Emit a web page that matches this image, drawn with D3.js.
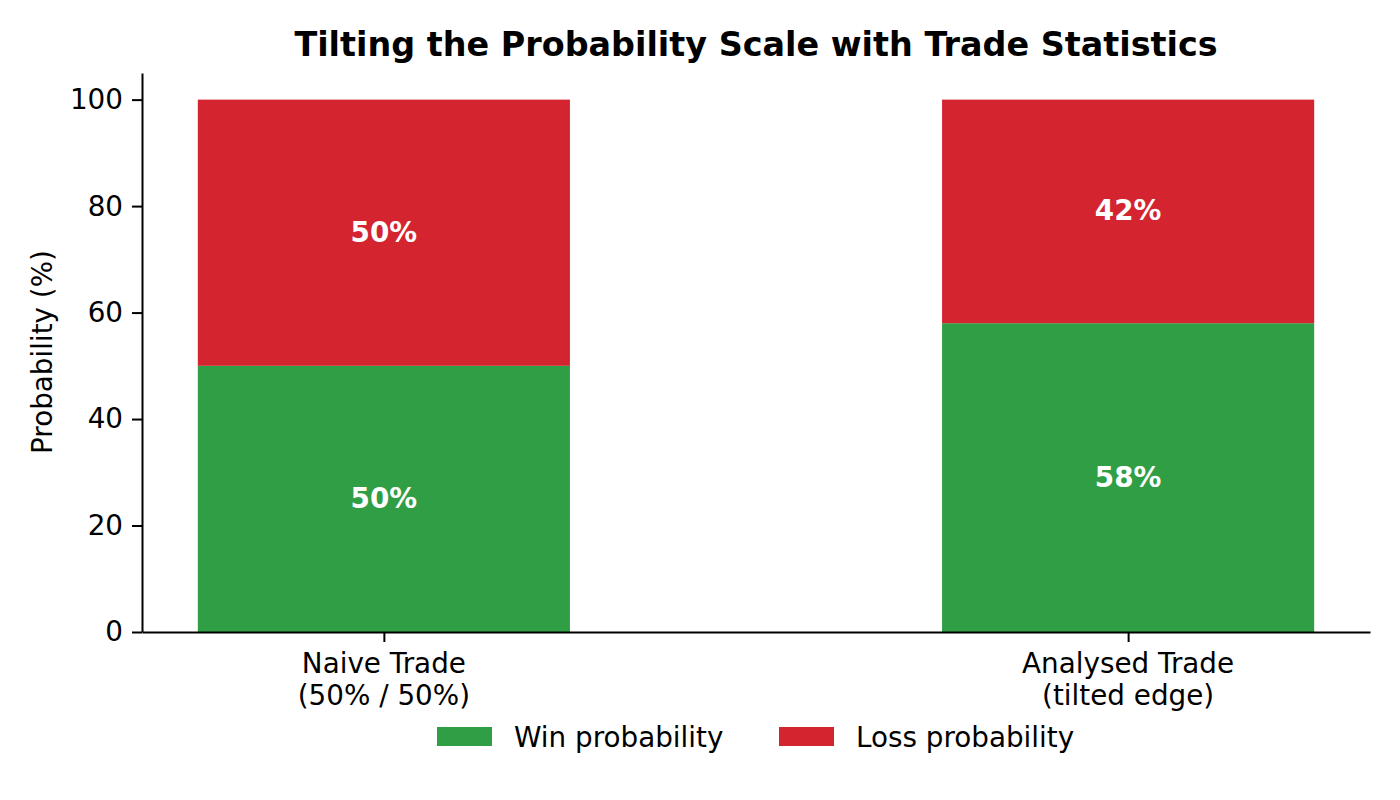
<!DOCTYPE html>
<html><head><meta charset="utf-8">
<script src="https://cdn.jsdelivr.net/npm/d3@7"></script>
<style>body{margin:0;background:#fff;font-family:"DejaVu Sans",sans-serif;}</style>
</head><body>
<svg id="chart" width="1400" height="800"></svg>
<script>
const categories = [["Naive Trade","(50% / 50%)"],["Analysed Trade","(tilted edge)"]];
const winValues = [50, 58];
const lossValues = [50, 42];
const seriesNames = ["Win probability","Loss probability"];
const seriesColors = ["#2f9e44","#d3242f"];
const yTicks = [0,20,40,60,80,100];

(function(){
const svg = d3.select("#chart");
const mLeft = 142, mRight = 1370, mTop = 73, mBottom = 632;
const fs = 27.8;
const x = d3.scaleLinear().domain([-0.325, 1.325]).range([mLeft, mRight]);
const y = d3.scaleLinear().domain([0, 105]).range([mBottom, mTop]);
const barW = 0.5;

const g = svg.append("g");
categories.forEach((c, i) => {
  const x0 = x(i - barW/2), x1 = x(i + barW/2);
  g.append("rect").attr("x", x0).attr("width", x1 - x0)
    .attr("y", y(winValues[i])).attr("height", y(0) - y(winValues[i]))
    .attr("fill", seriesColors[0]);
  g.append("rect").attr("x", x0).attr("width", x1 - x0)
    .attr("y", y(winValues[i] + lossValues[i])).attr("height", y(winValues[i]) - y(winValues[i] + lossValues[i]))
    .attr("fill", seriesColors[1]);
  g.append("text").attr("x", x(i)).attr("y", y(winValues[i]/2)).attr("dy", "0.32em")
    .attr("text-anchor", "middle").attr("fill", "#fff").attr("font-weight", "bold")
    .attr("font-size", fs).text(winValues[i] + "%");
  g.append("text").attr("x", x(i)).attr("y", y(winValues[i] + lossValues[i]/2)).attr("dy", "0.32em")
    .attr("text-anchor", "middle").attr("fill", "#fff").attr("font-weight", "bold")
    .attr("font-size", fs).text(lossValues[i] + "%");
});

const yAxis = svg.append("g").attr("transform", `translate(${mLeft},0)`)
  .call(d3.axisLeft(y).tickValues(yTicks).tickSize(10).tickPadding(9).tickSizeOuter(0));
yAxis.select(".domain").attr("stroke", "#000").attr("stroke-width", 2);
yAxis.selectAll(".tick line").attr("stroke-width", 2);
yAxis.selectAll("text").attr("font-size", fs).attr("font-family", "DejaVu Sans").attr("fill", "#000");

const xAxis = svg.append("g").attr("transform", `translate(0,${mBottom})`)
  .call(d3.axisBottom(x).tickValues([0,1]).tickFormat("").tickSize(10).tickSizeOuter(0));
xAxis.select(".domain").attr("stroke", "#000").attr("stroke-width", 2);
xAxis.selectAll(".tick line").attr("stroke-width", 2);
categories.forEach((c, i) => {
  const t = svg.append("text").attr("x", x(i)).attr("y", 673).attr("text-anchor", "middle")
    .attr("font-size", fs).attr("fill", "#000");
  c.forEach((line, j) => t.append("tspan").attr("x", x(i)).attr("dy", j === 0 ? 0 : 32).text(line));
});

svg.append("text").attr("transform", "translate(52,352) rotate(-90)").attr("text-anchor", "middle")
  .attr("font-size", fs).attr("fill", "#000").text("Probability (%)");

svg.append("text").attr("x", 756).attr("y", 56).attr("text-anchor", "middle")
  .attr("font-size", 33.4).attr("font-weight", "bold").attr("fill", "#000")
  .text("Tilting the Probability Scale with Trade Statistics");

const legX = [437, 779];
seriesNames.forEach((n, i) => {
  svg.append("rect").attr("x", legX[i]).attr("y", 727).attr("width", 55).attr("height", 19)
    .attr("fill", seriesColors[i]);
  svg.append("text").attr("x", legX[i] + 77).attr("y", 737).attr("dy", "0.36em")
    .attr("font-size", fs).attr("fill", "#000").text(n);
});
})();
</script>
</body></html>
